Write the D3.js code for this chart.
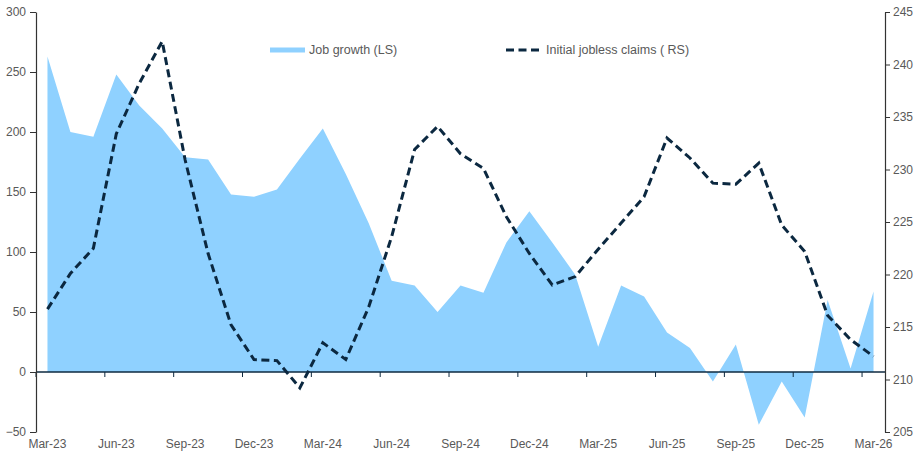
<!DOCTYPE html>
<html>
<head>
<meta charset="utf-8">
<script src="https://cdn.jsdelivr.net/npm/d3@7"></script>
<style>
  body { margin: 0; background: #fff; }
  svg text { font-family: "Liberation Sans", Arial, sans-serif; font-size: 12px; fill: #595959; }
</style>
</head>
<body>
<div id="wrapper"></div>
<script>
// monthly data, Mar-23 .. Mar-26
const months = [
  "Mar-23", "Apr-23", "May-23", "Jun-23", "Jul-23", "Aug-23", "Sep-23", "Oct-23", "Nov-23",
  "Dec-23", "Jan-24", "Feb-24", "Mar-24", "Apr-24", "May-24", "Jun-24", "Jul-24", "Aug-24",
  "Sep-24", "Oct-24", "Nov-24", "Dec-24", "Jan-25", "Feb-25", "Mar-25", "Apr-25", "May-25",
  "Jun-25", "Jul-25", "Aug-25", "Sep-25", "Oct-25", "Nov-25", "Dec-25", "Jan-26", "Feb-26",
  "Mar-26"
]

// job growth, thousands (left scale)
const jobGrowth = [
  263, 200, 196, 248, 222, 203, 179, 177, 148,
  146, 152, 178, 203, 165, 124, 76, 72, 50,
  72, 66, 108, 134, 108, 81, 21, 72, 63,
  33, 20, -8, 23, -44, -8, -38, 60, 3,
  67
]

// initial jobless claims, thousands (right scale)
const joblessClaims = [
  216.7, 220.1, 222.5, 233.4, 238.2, 242.2, 230.9, 222.0, 215.2,
  211.9, 211.8, 209.2, 213.5, 211.9, 216.9, 223.6, 231.9, 234.1,
  231.5, 230.1, 225.5, 222.0, 219.0, 219.8, 222.4, 224.9, 227.4,
  233.0, 231.1, 228.7, 228.6, 230.6, 224.7, 222.2, 216.1, 213.8,
  212.2
]

const leftTicks = [-50, 0, 50, 100, 150, 200, 250, 300]
const rightTicks = [205, 210, 215, 220, 225, 230, 235, 240, 245]

const width = 915
const height = 452
const plot = { left: 36, right: 885, top: 12, bottom: 432 }

const svg = d3.select("#wrapper")
  .append("svg")
  .attr("width", width)
  .attr("height", height)

// scales
const xScale = d3.scaleBand()
  .domain(months)
  .range([plot.left, plot.right])
  .padding(0)

const xMid = (m) => xScale(m) + xScale.bandwidth() / 2

const yLeft = d3.scaleLinear()
  .domain([-50, 300])
  .range([plot.bottom, plot.top])

const yRight = d3.scaleLinear()
  .domain([205, 245])
  .range([plot.bottom, plot.top])

// job growth area
const area = d3.area()
  .x((d, i) => xMid(months[i]))
  .y0(yLeft(0))
  .y1((d) => yLeft(d))

svg.append("path")
  .attr("d", area(jobGrowth))
  .attr("fill", "#8fd1ff")

// zero line + x ticks
svg.append("line")
  .attr("x1", plot.left)
  .attr("x2", plot.right)
  .attr("y1", yLeft(0))
  .attr("y2", yLeft(0))
  .attr("stroke", "#0e2a40")
  .attr("stroke-width", 1.3)

const quarterMonths = months.filter((m, i) => i % 3 === 0)

svg.selectAll(".x-tick")
  .data(quarterMonths)
  .join("line")
  .attr("class", "x-tick")
  .attr("x1", (d) => xScale(d))
  .attr("x2", (d) => xScale(d))
  .attr("y1", yLeft(0))
  .attr("y2", yLeft(0) + 5)
  .attr("stroke", "#0e2a40")

svg.selectAll(".x-label")
  .data(quarterMonths)
  .join("text")
  .attr("class", "x-label")
  .attr("x", (d) => xMid(d))
  .attr("y", 448)
  .attr("text-anchor", "middle")
  .text((d) => d)

// jobless claims line
const line = d3.line()
  .x((d, i) => xMid(months[i]))
  .y((d) => yRight(d))

svg.append("path")
  .attr("d", line(joblessClaims))
  .attr("fill", "none")
  .attr("stroke", "#0b2840")
  .attr("stroke-width", 3)
  .attr("stroke-dasharray", "8,4.5")

// axes
const leftAxis = svg.append("g")
  .attr("transform", `translate(${plot.left},0)`)
  .call(d3.axisLeft(yLeft).tickValues(leftTicks).tickSize(6).tickSizeOuter(0).tickPadding(4))

const rightAxis = svg.append("g")
  .attr("transform", `translate(${plot.right},0)`)
  .call(d3.axisRight(yRight).tickValues(rightTicks).tickSize(5).tickSizeOuter(0).tickPadding(3))

for (const ax of [leftAxis, rightAxis]) {
  ax.select(".domain").attr("stroke", "#333").attr("stroke-width", 1.2)
  ax.selectAll(".tick line").attr("stroke", "#333")
  ax.selectAll(".tick text")
    .style("font-family", "'Liberation Sans', Arial, sans-serif")
    .style("font-size", "12px")
    .attr("fill", "#595959")
}

// legend
const legend = svg.append("g")

legend.append("rect")
  .attr("x", 270)
  .attr("y", 47.5)
  .attr("width", 35)
  .attr("height", 5)
  .attr("fill", "#8fd1ff")

legend.append("text")
  .attr("x", 309)
  .attr("y", 54)
  .style("font-size", "12.5px")
  .text("Job growth (LS)")

legend.append("line")
  .attr("x1", 506)
  .attr("x2", 540)
  .attr("y1", 50)
  .attr("y2", 50)
  .attr("stroke", "#0b2840")
  .attr("stroke-width", 3)
  .attr("stroke-dasharray", "8,4.5")

legend.append("text")
  .attr("x", 546)
  .attr("y", 54)
  .style("font-size", "12.5px")
  .text("Initial jobless claims ( RS)")
</script>
</body>
</html>
